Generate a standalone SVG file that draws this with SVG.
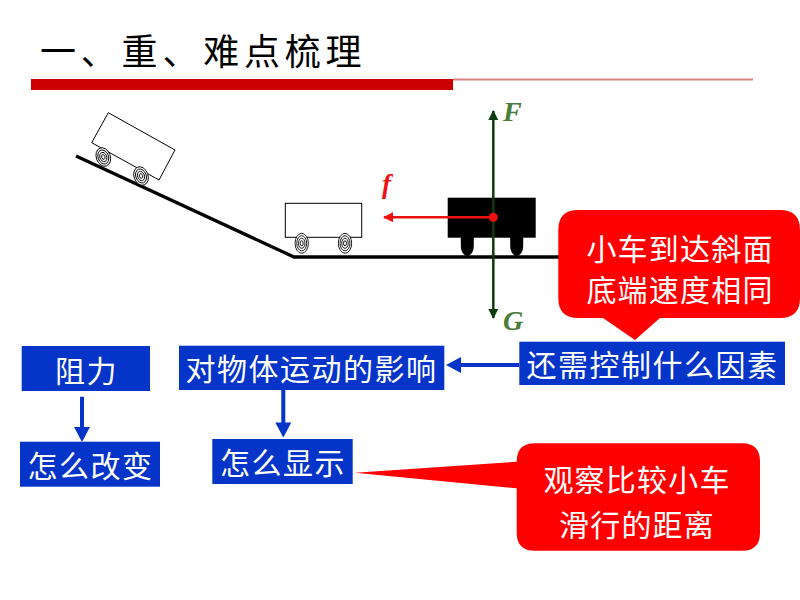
<svg xmlns="http://www.w3.org/2000/svg" width="800" height="600" viewBox="0 0 800 600">
<style>
.cjk{font-family:"Noto Sans CJK SC","Noto Sans",sans-serif;}
.box{fill:#0434C8;}
.bt{fill:#ffffff;font-size:30px;letter-spacing:1.5px;text-anchor:middle;}
.ct{fill:#ffffff;font-size:30px;letter-spacing:1.2px;text-anchor:middle;}
.cart{fill:#ffffff;stroke:#000;stroke-width:1;}
.wheel ellipse{fill:#fff;stroke:#000;stroke-width:0.9;}
.force{font-family:"Liberation Serif",serif;font-style:italic;font-weight:bold;}
</style>
<defs>
<marker id="ga" viewBox="0 0 10 10" refX="9" refY="5" markerWidth="4" markerHeight="4" orient="auto-start-reverse" markerUnits="strokeWidth">
<path d="M0,0 L10,5 L0,10 Z" fill="#0d3d0d"/>
</marker>
<marker id="ra" viewBox="0 0 10 10" refX="9" refY="5" markerWidth="4" markerHeight="4" orient="auto" markerUnits="strokeWidth">
<path d="M0,0 L10,5 L0,10 Z" fill="#ee1111"/>
</marker>
<g id="wheelShape" class="wheel">
<ellipse rx="7" ry="9.5"/>
<ellipse rx="5.2" ry="7.2"/>
<ellipse rx="3.4" ry="4.8"/>
<ellipse rx="1.6" ry="2.4"/>
</g>
</defs>

<g id="title">
<text class="cjk" x="40" y="65" font-size="36" letter-spacing="4.8" fill="#000">一、重、难点梳理</text>
<rect x="31" y="79" width="422" height="11" fill="#CC0000"/>
<rect x="453" y="78.5" width="300" height="2" fill="#D88080"/>
</g>

<g id="scene">
<polyline points="76,156 294,257 560,257" fill="none" stroke="#000" stroke-width="3.3" stroke-linejoin="miter"/>
<g id="cart1">
<polygon class="cart" points="108.3,112.7 175,150 159,180 91.7,142.7"/>
<use href="#wheelShape" transform="translate(103.3,157) rotate(-20)"/>
<use href="#wheelShape" transform="translate(141,176) rotate(-20)"/>
</g>
<g id="cart2">
<rect class="cart" x="285.3" y="203.3" width="76.4" height="34"/>
<use href="#wheelShape" transform="translate(301.7,243.3) scale(0.95,1.05)"/>
<use href="#wheelShape" transform="translate(345,243.3) scale(0.95,1.05)"/>
</g>
<g id="cart3">
<rect x="447.7" y="197.7" width="88" height="40" fill="#000"/>
<path d="M460.8,237 H473.8 V246 A6.5,10 0 0 1 460.8,246 Z" fill="#000"/>
<path d="M510.2,237 H523.2 V246 A6.5,10 0 0 1 510.2,246 Z" fill="#000"/>
</g>
</g>

<g id="forces">
<line x1="493.3" y1="318" x2="493.3" y2="111" stroke="#0d3d0d" stroke-width="2.5" marker-start="url(#ga)" marker-end="url(#ga)"/>
<text class="force" x="503" y="121" font-size="28" fill="#4A7C3A">F</text>
<text class="force" x="503" y="330" font-size="28" fill="#4A7C3A">G</text>
<line x1="493.3" y1="217.3" x2="384" y2="217.3" stroke="#ee1111" stroke-width="2.5" marker-end="url(#ra)"/>
<circle cx="493.3" cy="217.3" r="4.5" fill="#ee1111"/>
<text class="force" x="382" y="193" font-size="27" fill="#ee1111">f</text>
</g>

<g id="connectors" fill="#0434C8">
<path d="M80,396.7 H84 V427 H90 L82,442 L74,427 H80 Z"/>
<path d="M281.3,390 H285.3 V422.5 H291.3 L283.3,437.5 L275.3,422.5 H281.3 Z"/>
<path d="M519.3,363 V367 H461 V373 L446,365 L461,357 V363 Z"/>
</g>

<g id="callout1">
<path d="M578,210 H780 Q800,210 800,230 V298 Q800,318 780,318 H660 L635,340 L603,318 H578 Q558.3,318 558.3,298 V230 Q558.3,210 578,210 Z" fill="#FF0000"/>
<text class="cjk ct" x="680" y="259.5">小车到达斜面</text>
<text class="cjk ct" x="680" y="301">底端速度相同</text>
</g>

<g id="callout2">
<path d="M535,443.3 H742 Q760,443.3 760,461.3 V532.7 Q760,550.7 742,550.7 H535 Q516.7,550.7 516.7,532.7 V488.3 L355,472.7 L516.7,461.7 V461.3 Q516.7,443.3 535,443.3 Z" fill="#FF0000"/>
<text class="cjk ct" x="637" y="491">观察比较小车</text>
<text class="cjk ct" x="637" y="536">滑行的距离</text>
</g>

<g id="node-control">
<rect class="box" x="519.3" y="341.7" width="265.7" height="43.3"/>
<text class="cjk bt" x="652.5" y="376">还需控制什么因素</text>
</g>
<g id="node-effect">
<rect class="box" x="179" y="345.7" width="265.3" height="44.3"/>
<text class="cjk bt" x="311.5" y="380">对物体运动的影响</text>
</g>
<g id="node-resist">
<rect class="box" x="21.7" y="346" width="128.3" height="45"/>
<text class="cjk bt" x="86.5" y="382">阻力</text>
</g>
<g id="node-change">
<rect class="box" x="20" y="441.7" width="140" height="45"/>
<text class="cjk bt" x="90.5" y="477">怎么改变</text>
</g>
<g id="node-show">
<rect class="box" x="212.3" y="439" width="140.4" height="45"/>
<text class="cjk bt" x="283" y="474">怎么显示</text>
</g>
</svg>
